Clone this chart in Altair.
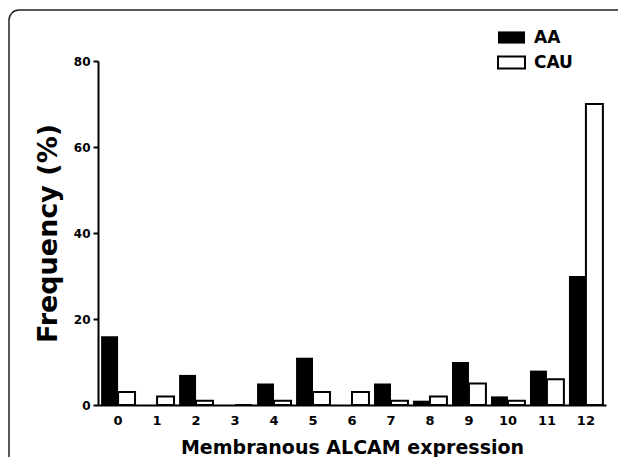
import altair as alt
import pandas as pd

categories = list(range(13))
aa_values = [16, 0, 7, 0, 5, 11, 0, 5, 1, 10, 2, 8, 30]
cau_values = [3, 2, 1, 0, 1, 3, 3, 1, 2, 5, 1, 6, 70]
series_names = ["AA", "CAU"]
series_fill = ["black", "white"]
y_ticks = [0, 20, 40, 60, 80]

rows = []
for c, a, u in zip(categories, aa_values, cau_values):
    rows.append({"cat": c, "series": "AA", "value": a})
    rows.append({"cat": c, "series": "CAU", "value": u})
df = pd.DataFrame(rows)

FONT = "DejaVu Sans"

bars = alt.Chart(df).mark_bar(stroke="black").encode(
    x=alt.X(
        "cat:O",
        scale=alt.Scale(paddingInner=0.13, paddingOuter=0.08),
        axis=alt.Axis(
            title="Membranous ALCAM expression",
            labelAngle=0,
            ticks=False,
            domainColor="black",
            domainWidth=2,
            labelFont=FONT,
            labelFontSize=13,
            labelFontWeight="bold",
            labelColor="black",
            labelPadding=9,
            titleFont=FONT,
            titleFontSize=19,
            titleFontWeight="bold",
            titleColor="black",
            titleX=254,
            titleY=48,
            titleBaseline="alphabetic",
            titleAlign="center",
        ),
    ),
    xOffset=alt.XOffset("series:N", scale=alt.Scale(domain=series_names)),
    y=alt.Y(
        "value:Q",
        scale=alt.Scale(domain=[0, 80]),
        axis=alt.Axis(
            values=y_ticks,
            title="Frequency (%)",
            grid=False,
            domainColor="black",
            domainWidth=2,
            tickColor="black",
            tickWidth=2,
            tickSize=5,
            labelFont=FONT,
            labelFontSize=12,
            labelFontWeight="bold",
            labelColor="black",
            labelPadding=3,
            titleFont=FONT,
            titleFontSize=27,
            titleFontWeight="bold",
            titleColor="black",
            titleX=-42,
            titleY=172,
            titleAngle=270,
            titleBaseline="alphabetic",
            titleAlign="center",
        ),
    ),
    fill=alt.Fill(
        "series:N",
        scale=alt.Scale(domain=series_names, range=series_fill),
        legend=alt.Legend(
            title=None,
            orient="none",
            legendX=399,
            legendY=-37,
            symbolType="M-1,-0.45H1V0.45H-1Z",
            symbolSize=729,
            symbolStrokeColor="black",
            symbolStrokeWidth=2,
            labelFont=FONT,
            labelFontSize=17,
            labelFontWeight="bold",
            labelColor="black",
            labelOffset=8,
            rowPadding=2,
            padding=0,
        ),
    ),
    strokeWidth=alt.StrokeWidth(
        "series:N",
        scale=alt.Scale(domain=series_names, range=[0, 2]),
        legend=None,
    ),
)

border = alt.Chart(alt.Data(values=[{}])).mark_rect(
    filled=False, stroke="#222222", strokeWidth=1.5, cornerRadius=10
).encode(
    x=alt.value(-89),
    x2=alt.value(540),
    y=alt.value(-51),
    y2=alt.value(430),
)

chart = (
    alt.layer(border, bars)
    .properties(
        width=508,
        height=344,
        autosize=alt.AutoSizeParams(type="none"),
        padding={"left": 90, "top": 53, "right": 12, "bottom": 52},
        background="white",
    )
    .configure_view(strokeWidth=0)
)

chart.save("out.html", embed_options={"renderer": "svg", "actions": False})
